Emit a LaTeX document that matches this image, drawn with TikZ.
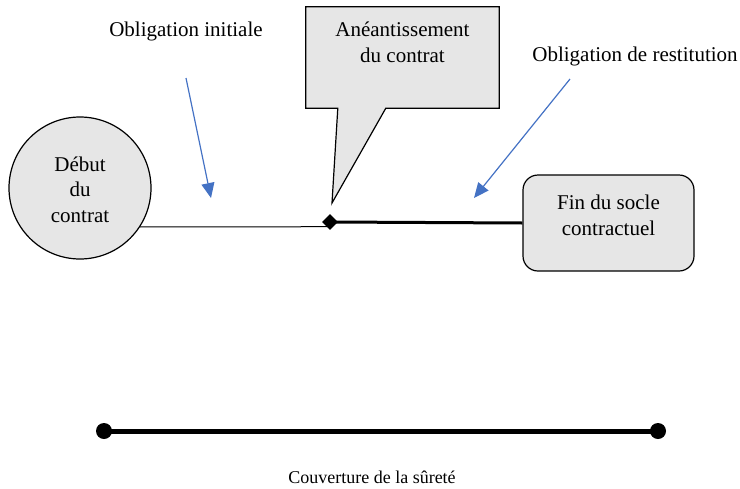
\documentclass[tikz,border=0pt]{standalone}
\usepackage{fontspec}
\setmainfont{Liberation Serif}
\usetikzlibrary{arrows.meta,shapes.geometric,calc}
\definecolor{boxgray}{HTML}{E6E6E6}
\definecolor{hintblue}{HTML}{4472C4}

\begin{document}
\begin{tikzpicture}[x=1pt,y=-1pt,
  lbl/.style={font=\fontsize{21}{25.5}\selectfont, inner sep=0pt, align=center, anchor=base},
  shapebox/.style={draw=black, line width=1.2pt, fill=boxgray},
  hint/.style={draw=hintblue, line width=1.2pt, -{Triangle[length=15pt,width=13pt,fill=hintblue]}},
  dot/.style={circle, fill=black, inner sep=0pt, minimum size=16pt},
]
\useasboundingbox (0,0) rectangle (740,488);

% start of the contract (multi-line labels are placed by their last baseline)
\node[shapebox, circle, minimum size=142pt, inner sep=0pt] (debut) at (80,188) {};
\node[lbl] (debuttxt) at (80,222) {Début\\du\\contrat};

% end of the contractual base
\node[shapebox, rounded corners=15pt, minimum width=171pt, minimum height=96pt] (fin) at (608.5,223) {};
\node[lbl] (fintxt) at (608.5,235) {Fin du socle\\contractuel};

% annulment point on the timeline
\node[diamond, inner sep=0pt, minimum size=16pt] (mid) at (330,222) {};
\coordinate (thinend) at (330,226.7);
\draw[line width=1pt] (debut.-33) -- (thinend);
\draw[line width=3pt] (mid.center) -- (fin.west);
\node[diamond, fill=black, inner sep=0pt, minimum size=16pt] at (mid) {};

% callout pointing at the annulment
\node[minimum width=193pt, minimum height=101pt, inner sep=0pt] (callout) at (402.5,57.5) {};
\coordinate (tip) at (332,203);
\draw[shapebox] (callout.north west) -- (callout.north east) -- (callout.south east)
  -- ($(callout.south west)+(80,0)$) -- (tip) -- ($(callout.south west)+(32,0)$)
  -- (callout.south west) -- cycle;
\node[lbl] (callouttxt) at (402.5,62) {Anéantissement\\du contrat};

% obligations
\node[lbl] (oblinit) at (186,36) {Obligation initiale};
\node[lbl] (oblrest) at (635,61) {Obligation de restitution};
\coordinate (initfrom) at (186,78);
\coordinate (initto) at (211,198);
\coordinate (restfrom) at (570,79);
\coordinate (restto) at (474,198);
\draw[hint] (initfrom) -- (initto);
\draw[hint] (restfrom) -- (restto);

% coverage of the security
\node[dot] (covA) at (104,431) {};
\node[dot] (covB) at (658,431) {};
\draw[line width=5pt] (covA.center) -- (covB.center);
\node[lbl, font=\fontsize{18}{22}\selectfont] (covtxt) at (372,483) {Couverture de la sûreté};
\end{tikzpicture}
\end{document}
